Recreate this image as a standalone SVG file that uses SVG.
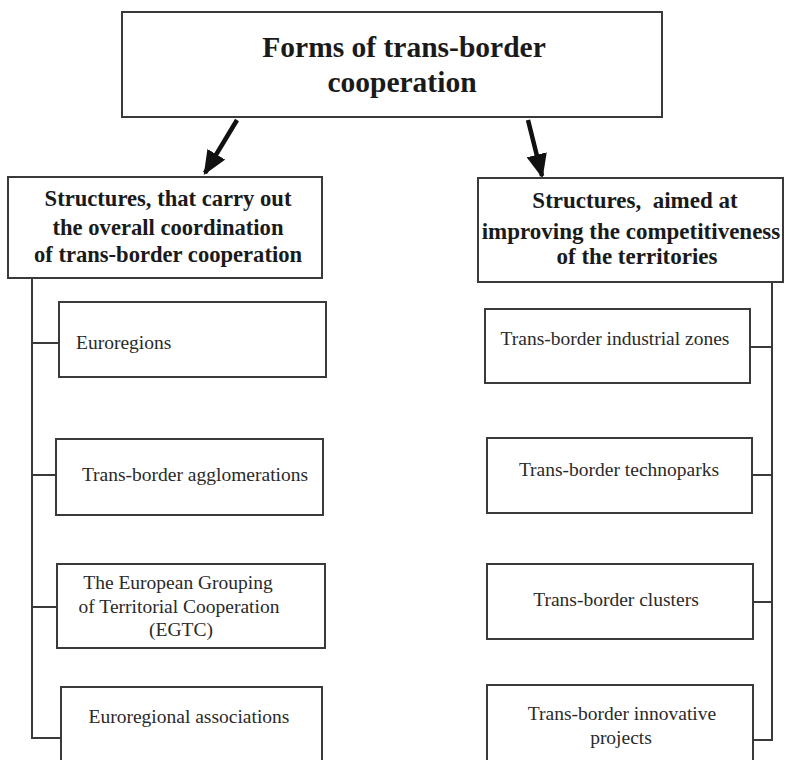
<svg xmlns="http://www.w3.org/2000/svg" width="785" height="760" viewBox="0 0 785 760">
<defs>
<style>
.box{fill:#fff;stroke:#3a3a3a;stroke-width:2}
.line{fill:none;stroke:#3a3a3a;stroke-width:2}
.h{font-family:"Liberation Serif","Times New Roman",serif;font-weight:bold;fill:#1a1a1a;text-anchor:middle}
.t{font-family:"Liberation Serif","Times New Roman",serif;fill:#2a2a2a;font-size:19.5px}
.c{text-anchor:middle}
.arrow{stroke:#111;stroke-width:4.5;fill:none}
</style>
<marker id="ah" viewBox="0 0 10 10" refX="9" refY="5" markerWidth="5.4" markerHeight="4.6" orient="auto" markerUnits="strokeWidth" preserveAspectRatio="none">
<path d="M0,0 L10,5 L0,10 z" fill="#111"/>
</marker>
</defs>
<rect width="785" height="760" fill="#fff"/>
<g id="connectors">
<line class="arrow" x1="237" y1="120" x2="205" y2="173" marker-end="url(#ah)"/>
<line class="arrow" x1="528" y1="120" x2="542" y2="176" marker-end="url(#ah)"/>
<path class="line" d="M32,278 V738 H61"/>
<line class="line" x1="32" y1="343" x2="59" y2="343"/>
<line class="line" x1="32" y1="475" x2="56" y2="475"/>
<line class="line" x1="32" y1="607" x2="57" y2="607"/>
<path class="line" d="M772,282 V740 H753"/>
<line class="line" x1="772" y1="347" x2="750" y2="347"/>
<line class="line" x1="772" y1="475" x2="752" y2="475"/>
<line class="line" x1="772" y1="602" x2="753" y2="602"/>
</g>
<g id="root">
<rect class="box" x="122" y="12" width="540" height="105"/>
<text class="h" font-size="29.5" x="404" y="57">Forms of trans-border</text>
<text class="h" font-size="29.5" x="402" y="92">cooperation</text>
</g>
<g id="left-head">
<rect class="box" x="8" y="177" width="314" height="101"/>
<text class="h" font-size="22.6" x="168" y="206">Structures, that carry out</text>
<text class="h" font-size="22.6" x="168" y="235">the overall coordination</text>
<text class="h" font-size="22.6" x="168" y="262">of trans-border cooperation</text>
</g>
<g id="right-head">
<rect class="box" x="478" y="178" width="305" height="104"/>
<text class="h" font-size="23" x="635" y="208" xml:space="preserve">Structures,  aimed at</text>
<text class="h" font-size="23" x="631" y="239">improving the competitiveness</text>
<text class="h" font-size="23" x="637" y="264">of the territories</text>
</g>
<g id="euroregions">
<rect class="box" x="59" y="302" width="267" height="75"/>
<text class="t" x="76" y="349">Euroregions</text>
</g>
<g id="agglomerations">
<rect class="box" x="56" y="439" width="267" height="76"/>
<text class="t c" x="195" y="481">Trans-border agglomerations</text>
</g>
<g id="egtc">
<rect class="box" x="57" y="564" width="268" height="84"/>
<text class="t c" x="178" y="589">The European Grouping</text>
<text class="t c" x="179" y="613">of Territorial Cooperation</text>
<text class="t c" x="181" y="636">(EGTC)</text>
</g>
<g id="associations">
<path class="box" d="M61,770 V687 H322 V770"/>
<text class="t c" x="189" y="723">Euroregional associations</text>
</g>
<g id="industrial">
<rect class="box" x="485" y="309" width="265" height="74"/>
<text class="t c" x="615" y="345">Trans-border industrial zones</text>
</g>
<g id="technoparks">
<rect class="box" x="487" y="438" width="265" height="75"/>
<text class="t c" x="619" y="476">Trans-border technoparks</text>
</g>
<g id="clusters">
<rect class="box" x="487" y="564" width="266" height="75"/>
<text class="t c" x="616" y="606">Trans-border clusters</text>
</g>
<g id="innovative">
<path class="box" d="M487,770 V685 H753 V770"/>
<text class="t c" x="622" y="720">Trans-border innovative</text>
<text class="t c" x="621" y="744">projects</text>
</g>
</svg>
